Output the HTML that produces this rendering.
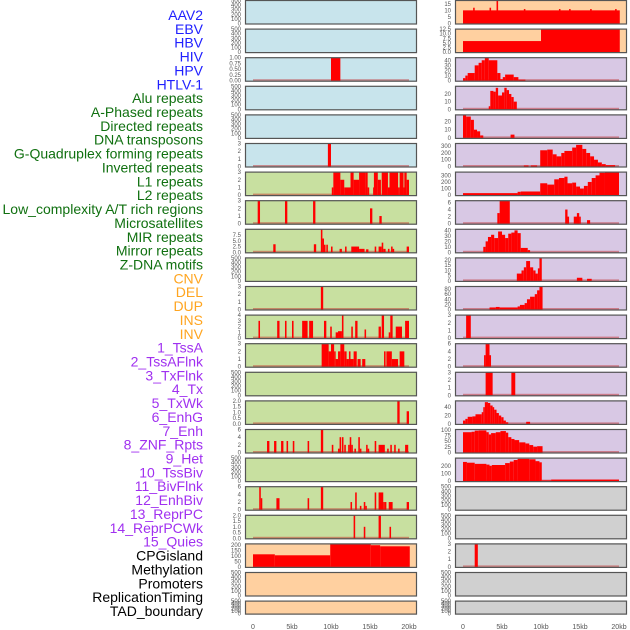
<!DOCTYPE html>
<html><head><meta charset="utf-8">
<style>
html,body{margin:0;padding:0;background:#fff;}
svg{display:block;font-family:"Liberation Sans",sans-serif;}
</style></head>
<body>
<svg id="chart" width="630" height="630" viewBox="0 0 630 630"></svg>
<script>
// ---- data ----
const trackLabels = ["AAV2","EBV","HBV","HIV","HPV","HTLV-1","Alu repeats","A-Phased repeats","Directed repeats","DNA transposons","G-Quadruplex forming repeats","Inverted repeats","L1 repeats","L2 repeats","Low_complexity A/T rich regions","Microsatellites","MIR repeats","Mirror repeats","Z-DNA motifs","CNV","DEL","DUP","INS","INV","1_TssA","2_TssAFlnk","3_TxFlnk","4_Tx","5_TxWk","6_EnhG","7_Enh","8_ZNF_Rpts","9_Het","10_TssBiv","11_BivFlnk","12_EnhBiv","13_ReprPC","14_ReprPCWk","15_Quies","CPGisland","Methylation","Promoters","ReplicationTiming","TAD_boundary"];
const labelColors = ["#2020ff","#2020ff","#2020ff","#2020ff","#2020ff","#2020ff","#107010","#107010","#107010","#107010","#107010","#107010","#107010","#107010","#107010","#107010","#107010","#107010","#107010","#ffa520","#ffa520","#ffa520","#ffa520","#ffa520","#a030f0","#a030f0","#a030f0","#a030f0","#a030f0","#a030f0","#a030f0","#a030f0","#a030f0","#a030f0","#a030f0","#a030f0","#a030f0","#a030f0","#a030f0","#000","#000","#000","#000","#000"];
const xTickValues = [0,5,10,15,20];
const xTickLabels = ["0","5kb","10kb","15kb","20kb"];
const emptyTicks = ["0","100","200","300","400","500"];
const t03 = ["0","1","2","3"];

// each panel: [bg, ymax, tickValues, tickLabels, segments [startKb,endKb,value]]
const leftPanels = [
 ["#c8e4ec",500,[0,100,200,300,400,500],emptyTicks,[]],
 ["#c8e4ec",500,[0,100,200,300,400,500],emptyTicks,[]],
 ["#c8e4ec",1,[0,0.25,0.5,0.75,1],["0.00","0.25","0.50","0.75","1.00"],[[10,11.2,1]]],
 ["#c8e4ec",500,[0,100,200,300,400,500],emptyTicks,[]],
 ["#c8e4ec",500,[0,100,200,300,400,500],emptyTicks,[]],
 ["#c8e4ec",3,[0,1,2,3],t03,[[9.6,10.0,3]]],
 ["#c8e0a0",3,[0,1,2,3],t03,[[10.1,10.3,1],[10.3,11.2,3],[11.2,11.7,2],[11.7,12.5,1],[12.5,12.9,3],[12.9,13.6,2],[13.6,14.4,3],[14.4,14.7,1],[14.4,14.7,3],[14.7,14.9,1],[15.4,15.5,1],[15.5,16.0,3],[16.0,16.4,2],[16.5,17.3,3],[17.3,17.5,1],[17.5,18.6,3],[18.6,18.8,1],[18.8,19.3,3],[19.3,19.4,1],[19.4,19.7,3],[19.7,20.0,2]]],
 ["#c8e0a0",3,[0,1,2,3],t03,[[0.6,0.9,3],[4.1,4.4,3],[7.7,8.0,3],[15.0,15.3,2],[16.2,16.5,1]]],
 ["#c8e0a0",10,[0,2.5,5,7.5],["0.0","2.5","5.0","7.5"],[[2.6,2.9,3.5],[7.8,8.1,3.5],[8.7,8.9,10],[8.9,9.1,6],[9.1,9.3,3.3],[9.4,9.6,3.3],[10,10.2,2.5],[11.1,11.4,1.5],[11.8,12.0,2.5],[12.6,13.4,2.5],[13.4,13.6,2.5],[13.6,14.3,1.5],[14.5,14.8,1.3],[15.6,15.8,2.5],[16.1,16.5,2.5],[16.5,16.7,4.2],[16.7,17.0,1.5],[17.3,17.5,1.5],[17.7,17.9,2.5],[17.9,18.1,1.5],[19.7,20.0,2.5]]],
 ["#c8e0a0",500,[0,100,200,300,400,500],emptyTicks,[]],
 ["#c8e0a0",3,[0,1,2,3],t03,[[8.7,9.0,3]]],
 ["#c8e0a0",4,[0,1,2,3,4],["0","1","2","3","4"],[[0.7,0.9,3],[3.1,3.4,3],[4.1,4.3,3],[5.0,5.2,3],[6.3,7.0,3],[7.2,7.7,3],[9.1,9.4,3],[9.9,10.1,2],[10.6,10.9,1],[10.9,11.4,1.2],[11.4,11.6,4],[12.6,12.8,2],[13.1,13.4,3],[14.3,14.5,1.5],[16.1,16.4,2],[16.5,16.8,4],[17.4,17.6,1],[17.6,17.9,4],[18.3,19.1,2],[19.5,20.0,3]]],
 ["#c8e0a0",3,[0,1,2,3],t03,[[8.8,9.7,3],[9.7,10.0,2],[10.0,10.4,3],[10.4,10.6,2],[10.6,10.9,1],[10.9,11.2,2],[11.2,11.7,3],[11.7,12.0,2],[12.0,12.3,1],[12.3,12.5,2],[12.5,12.9,1],[12.9,13.3,2],[13.4,13.8,1],[14.0,14.4,1],[16.8,17.0,2],[17.1,17.8,2],[17.8,18.6,1],[18.8,19.4,2]]],
 ["#c8e0a0",500,[0,100,200,300,400,500],emptyTicks,[]],
 ["#c8e0a0",2,[0,0.5,1,1.5,2],["0.0","0.5","1.0","1.5","2.0"],[[18.5,18.8,2],[19.7,20.0,1.1]]],
 ["#c8e0a0",6,[0,2,4,6],["0","2","4","6"],[[1.8,2.1,3],[2.7,3.0,3],[3.6,3.9,3],[4.3,4.5,3],[5.1,5.3,3],[7.0,7.2,3],[8.7,9.0,6],[10.1,10.3,2],[10.9,11.1,1],[11.1,11.3,4],[11.4,11.6,4],[11.7,11.9,2],[12.2,12.4,2],[12.4,12.6,4],[12.6,12.8,2],[13.0,13.2,1],[13.5,13.7,4],[13.7,13.9,1],[14.5,14.7,2],[14.7,14.9,1],[15.6,15.8,3],[16.1,16.9,2],[17.2,17.4,1],[17.6,17.8,2],[18.1,18.3,2],[18.6,18.8,1],[19.5,19.9,2]]],
 ["#c8e0a0",500,[0,100,200,300,400,500],emptyTicks,[]],
 ["#c8e0a0",6,[0,2,4,6],["0","2","4","6"],[[0.8,1.0,6],[1.0,1.1,3],[3.0,3.4,3],[7.0,7.2,3],[8.7,9.0,6],[12.5,12.7,2],[13.1,13.3,4.5],[13.7,13.9,1],[14.2,14.4,2],[14.4,14.5,1],[15.6,15.8,4.5],[16.1,16.7,4.5],[16.7,16.9,2],[16.9,17.1,2],[17.4,17.9,2],[19.7,20.0,2]]],
 ["#c8e0a0",2,[0,0.5,1,1.5,2],["0.0","0.5","1.0","1.5","2.0"],[[12.9,13.1,2],[14.2,14.4,1],[16.1,16.4,2],[17.5,17.7,1]]],
 ["#ffd0a0",210,[0,50,100,150,200],["0","50","100","150","200"],[[0,2.8,115],[2.8,9.9,106],[9.9,15.1,205],[15.1,16.3,198],[16.3,20.1,188]]],
 ["#ffd0a0",500,[0,100,200,300,400,500],emptyTicks,[]],
 ["#ffd0a0",500,[0,100,200,300,400,500],emptyTicks,[]]
];
const rightPanels = [
 ["#ffd0a0",17.5,[0,5,10,15],["0","5","10","15"],[[0,20.1,10],[1.3,1.5,12],[3.4,3.6,12],[4.3,4.5,20],[7.8,8.0,11],[12.3,12.5,11],[13.6,13.8,11],[16.3,16.5,11],[19.5,19.7,11]]],
 ["#ffd0a0",12.5,[0,2.5,5,7.5,10,12.5],["0.0","2.5","5.0","7.5","10.0","12.5"],[[0,10,6],[10,20.1,12.5]]],
 ["#d8c8e4",45,[0,10,20,30,40],["0","10","20","30","40"],[[0,0.3,5],[0.3,0.6,10],[0.6,1.5,15],[1.5,2.0,30],[2.0,2.4,35],[2.4,2.8,40],[2.8,3.3,45],[3.3,4.4,40],[4.4,4.8,15],[4.8,5.1,3],[5.1,5.4,7],[5.4,6.5,12],[6.5,7.1,7],[7.1,8.0,2]]],
 ["#d8c8e4",30,[0,10,20],["0","10","20"],[[3.3,3.5,4],[3.5,3.9,24],[3.9,4.2,23],[4.2,4.5,28],[4.5,5.0,18],[5.0,5.3,22],[5.3,5.6,28],[5.6,5.9,25],[5.9,6.2,20],[6.2,6.5,16],[6.5,6.9,10]]],
 ["#d8c8e4",28,[0,10,20],["0","10","20"],[[0,0.4,28],[0.4,1.0,26],[1.0,1.4,22],[1.4,1.8,10],[1.8,2.2,8],[2.2,2.6,3],[6.1,6.6,4]]],
 ["#d8c8e4",340,[0,100,200,300],["0","100","200","300"],[[7.8,8.4,15],[8.7,9.5,15],[9.9,10.8,240],[10.8,11.5,250],[11.5,12,180],[12,12.6,150],[12.6,13,200],[13,14,230],[14,14.5,280],[14.5,15.3,320],[15.3,15.8,260],[15.8,16.3,200],[16.3,16.8,150],[16.8,17.3,100],[17.3,17.8,60],[17.8,18.3,35],[18.3,19.5,20]]],
 ["#d8c8e4",350,[0,100,200,300],["0","100","200","300"],[[0,7.0,30],[7.0,7.4,50],[7.4,9.9,55],[9.9,10.8,180],[10.8,11.7,160],[11.7,12.3,240],[12.3,13,260],[13,13.4,280],[13.4,14,180],[14,14.5,190],[14.5,15,130],[15,15.5,100],[15.5,16,140],[16,16.5,200],[16.5,17,260],[17,17.5,300],[17.5,18.2,340],[18.2,20,350]]],
 ["#d8c8e4",6.5,[0,2,4,6],["0","2","4","6"],[[4.4,4.7,3],[4.7,6.0,6.5],[13.1,13.4,4],[13.4,13.6,2],[14.2,14.9,2],[14.6,14.9,3],[14.9,15.1,2],[15.9,16.3,1]]],
 ["#d8c8e4",42,[0,10,20,30,40],["0","10","20","30","40"],[[2.6,2.9,10],[2.9,3.2,20],[3.2,3.6,28],[3.6,4.0,32],[4.0,4.5,26],[4.5,5.0,38],[5.0,5.4,32],[5.4,5.8,26],[5.8,6.2,34],[6.2,6.6,36],[6.6,7.0,40],[7.0,7.4,35],[7.4,8.3,8],[8.3,8.6,4]]],
 ["#d8c8e4",22,[0,5,10,15,20],["0","5","10","15","20"],[[6.9,7.5,7],[7.5,7.8,10],[7.8,8.1,13],[8.1,8.6,19],[8.6,9.0,13],[9.0,9.3,10],[9.3,9.6,7],[9.6,9.8,12],[9.8,10.1,22],[14.6,15.3,3],[15.9,16.5,2]]],
 ["#d8c8e4",90,[0,20,40,60,80],["0","20","40","60","80"],[[3.4,4.2,8],[4.2,4.7,10],[4.7,7.0,8],[7.0,7.3,12],[7.3,7.9,18],[7.9,8.2,25],[8.2,8.6,40],[8.6,9.2,50],[9.2,9.5,60],[9.5,9.8,75],[9.8,10.2,90]]],
 ["#d8c8e4",3,[0,1,2,3],t03,[[0.4,1.0,3]]],
 ["#d8c8e4",6,[0,2,4,6],["0","2","4","6"],[[2.7,2.9,3],[2.9,3.4,6],[3.4,3.5,3]]],
 ["#d8c8e4",3,[0,1,2,3],t03,[[2.9,3.8,3],[6.2,6.7,3]]],
 ["#d8c8e4",55,[0,20,40],["0","20","40"],[[0,0.3,8],[0.3,0.6,12],[0.6,1.2,17],[1.2,1.6,18],[1.6,2.4,23],[2.4,2.6,28],[2.6,2.8,40],[2.8,3.2,52],[3.2,3.5,50],[3.5,3.8,44],[3.8,4.0,40],[4.0,4.3,34],[4.3,4.6,26],[4.6,4.9,20],[4.9,5.2,16],[5.2,5.5,8],[5.5,5.8,4],[8.1,8.6,5]]],
 ["#d8c8e4",102,[0,25,50,75,100],["0","25","50","75","100"],[[0,1.1,90],[1.1,1.5,92],[1.5,2.0,97],[2.0,3.0,98],[3.0,3.3,90],[3.3,3.6,80],[3.6,4.2,86],[4.2,4.8,90],[4.8,5.5,95],[5.5,5.8,88],[5.8,6.2,68],[6.2,6.6,60],[6.6,7.2,55],[7.2,8.0,45],[8.0,8.5,40],[8.5,9.0,33],[9.0,9.5,26],[9.5,10.2,28]]],
 ["#d8c8e4",300,[0,100,200],["0","100","200"],[[0,0.5,250],[0.5,1.5,240],[1.5,3,225],[3,3.4,215],[3.4,3.7,200],[3.7,5.4,210],[5.4,6.0,235],[6.0,6.5,255],[6.5,7.0,275],[7.0,8.5,290],[8.5,9.3,285],[9.3,9.8,260],[9.8,10.1,245],[10.1,11.3,10],[11.3,20,20]]],
 ["#d0d0d0",500,[0,100,200,300,400,500],emptyTicks,[]],
 ["#d0d0d0",500,[0,100,200,300,400,500],emptyTicks,[]],
 ["#d0d0d0",3,[0,1,2,3],t03,[[1.5,1.9,3]]],
 ["#d0d0d0",500,[0,100,200,300,400,500],emptyTicks,[]],
 ["#d0d0d0",500,[0,100,200,300,400,500],emptyTicks,[]]
];

// ---- layout ----
const NS = "http://www.w3.org/2000/svg";
const svg = document.getElementById("chart");
function mk(tag, attrs, parent){ const e=document.createElementNS(NS,tag); for(const k in attrs) e.setAttribute(k,attrs[k]); (parent||svg).appendChild(e); return e; }

// labels
trackLabels.forEach((t,i)=>{
  const el = mk("text",{x:203,y:15+i*13.86+5,"text-anchor":"end","font-size":"14",fill:labelColors[i]});
  el.textContent = t;
  
  
});

const rowTop = i => i*28.6;
function rowH(i){ return i===21 ? 14 : 24.5; }

function drawColumn(panels, frameX, zeroX, colName){
  const kbPx = 7.8;
  const xs = kb => zeroX + kb*kbPx;
  panels.forEach((p,i)=>{
    const [bg,ymax,tv,tl,segs] = p;
    const top = rowTop(i), h = rowH(i);
    const g = mk("g",{});
    
    
    const bgRect = mk("rect",{x:frameX,y:top,width:172,height:h,fill:bg},g);
    
    
    const y0 = top+h-1, y1 = top+0.5;
    const ys = v => y0 - (v/ymax)*(y0-y1);
    if(segs.length){
      const bl = mk("rect",{x:xs(0),y:y0-1.5,width:xs(20)-xs(0),height:2,fill:"rgba(190,30,30,0.45)"},g);
      
      
    }
    segs.forEach(s=>{
      const b = mk("rect",{x:xs(s[0]),y:ys(s[2]),width:Math.max(1.5,xs(s[1])-xs(s[0])),height:y0-ys(s[2]),fill:"#ff0000"},g);
      
      
    });
    const fr = mk("rect",{x:frameX+0.5,y:top+0.5,width:171,height:h-1,fill:"none",stroke:"#555","stroke-width":1.2},g);
    
    
    tv.forEach((v,k)=>{
      const t = mk("text",{x:frameX-4,y:ys(v)+2,"text-anchor":"end","font-size":"6",fill:"#555"},g);
      t.textContent = tl[k];
      
      
    });
  });
  xTickValues.forEach((v,k)=>{
    const t = mk("text",{x:xs(v),y:629,"text-anchor":"middle","font-size":"7",fill:"#555"});
    t.textContent = xTickLabels[k];
    
    
  });
}
drawColumn(leftPanels,245,253,"left");
drawColumn(rightPanels,455,463,"right");
</script>
</body></html>
